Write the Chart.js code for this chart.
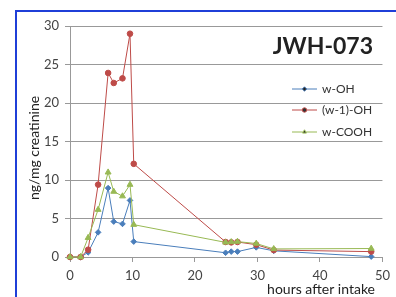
<!DOCTYPE html>
<html>
<head>
<meta charset="utf-8">
<script src="https://cdn.jsdelivr.net/npm/chart.js@4"></script>
<style>
  html, body { margin: 0; padding: 0; background: #fff; }
  #wrap { position: relative; width: 396px; height: 297px; overflow: hidden; }
  #frame { position: absolute; left: 15px; top: 10px; width: 400px; height: 300px;
           border-left: 2px solid #1f3fd8; border-top: 2px solid #1f3fd8; box-sizing: border-box; }
  canvas { position: absolute; left: 0; top: 0; }
</style>
</head>
<body>
<div id="wrap">
  <div id="frame"></div>
  <canvas id="grafico" width="396" height="297"></canvas>
</div>
<script>
// dados
const horas = [0, 1.7, 2.9, 4.5, 6.1, 7.0, 8.4, 9.6, 10.2, 24.9, 25.8, 26.8, 29.8, 32.6, 48.2];
const wOH = [0, 0, 0.6, 3.2, 8.95, 4.6, 4.3, 7.35, 2.0, 0.55, 0.7, 0.7, 1.25, 0.8, 0.05];
const w1OH = [0, 0, 0.95, 9.4, 23.9, 22.6, 23.2, 29.0, 12.1, 1.95, 1.9, 1.95, 1.6, 0.9, 0.7];
const wCOOH = [0, 0, 2.5, 6.15, 11.0, 8.5, 7.9, 9.4, 4.2, 1.9, 1.95, 2.0, 1.75, 1.05, 1.1];
const nomes = ['w-OH', '(w-1)-OH', 'w-COOH'];
const xTicks = [0, 10, 20, 30, 40, 50];
const yTicks = [0, 5, 10, 15, 20, 25, 30];

const fonte = 'Lato, "Open Sans", sans-serif';

function pontos(vals) {
    return horas.map((h, i) => ({ x: h, y: vals[i] }));
}

// textos e legenda desenhados à mão
const extras = {
    id: 'extras',
    afterDraw(chart) {
        const ctx = chart.ctx;
        ctx.save();
        ctx.fillStyle = '#222';
        ctx.font = 'bold 23px ' + fonte;
        ctx.textAlign = 'right';
        ctx.textBaseline = 'middle';
        ctx.fillText('JWH-073', 373, 47);

        ctx.font = '14px ' + fonte;
        ctx.textAlign = 'right';
        ctx.fillText('hours after intake', 375, 289);

        ctx.save();
        ctx.translate(34, 148);
        ctx.rotate(-Math.PI / 2);
        ctx.textAlign = 'center';
        ctx.font = '14px ' + fonte;
        ctx.fillText('ng/mg creatinine', 0, 0);
        ctx.restore();

        // legenda
        const ys = [89, 110, 132];
        chart.data.datasets.forEach((ds, i) => {
            const y = ys[i];
            ctx.strokeStyle = ds.borderColor;
            ctx.lineWidth = 1;
            ctx.beginPath();
            ctx.moveTo(292, y);
            ctx.lineTo(317, y);
            ctx.stroke();
            Chart.helpers.drawPoint(ctx, {
                pointStyle: ds.pointStyle, radius: 2.2, borderWidth: 1
            }, 304.5, y);
            ctx.fillStyle = '#333';
            ctx.font = '12px ' + fonte;
            ctx.textAlign = 'left';
            ctx.fillText(ds.label, 322, y + 0.5);
        });
        ctx.restore();
    }
};

const ctx = document.getElementById('grafico').getContext('2d');

const grafico = new Chart(ctx, {
    type: 'line',
    data: {
        datasets: [
            { label: nomes[0], data: pontos(wOH), borderColor: '#4a7ebb', backgroundColor: '#4a7ebb', pointStyle: 'rectRot', pointRadius: 2.8, order: 2 },
            { label: nomes[1], data: pontos(w1OH), borderColor: '#be4b48', backgroundColor: '#be4b48', pointStyle: 'circle', pointRadius: 2.8, order: 1 },
            { label: nomes[2], data: pontos(wCOOH), borderColor: '#98b954', backgroundColor: '#98b954', pointStyle: 'triangle', pointRadius: 3.4, order: 0 }
        ].map(d => Object.assign(d, { borderWidth: 1, tension: 0, pointBorderWidth: 1, clip: false }))
    },
    options: {
        responsive: false,
        animation: false,
        layout: { padding: { left: 0, top: 26, right: 13, bottom: 0 } },
        plugins: { legend: { display: false }, tooltip: { enabled: false } },
        scales: {
            x: {
                type: 'linear',
                min: 0, max: 50,
                afterFit: s => { s.height = 40; },
                afterBuildTicks: s => { s.ticks = xTicks.map(v => ({ value: v })); },
                grid: { drawOnChartArea: false, drawTicks: true, tickLength: 5, color: '#999' },
                border: { color: '#999' },
                ticks: { color: '#444', font: { family: fonte, size: 13 }, padding: 6, maxRotation: 0 }
            },
            y: {
                min: 0, max: 30,
                afterFit: s => { s.width = 70; },
                afterBuildTicks: s => { s.ticks = yTicks.map(v => ({ value: v })); },
                grid: { color: '#999', tickLength: 5 },
                border: { color: '#999' },
                ticks: { color: '#444', font: { family: fonte, size: 13 }, padding: 6 }
            }
        }
    },
    plugins: [extras]
});
</script>
</body>
</html>
